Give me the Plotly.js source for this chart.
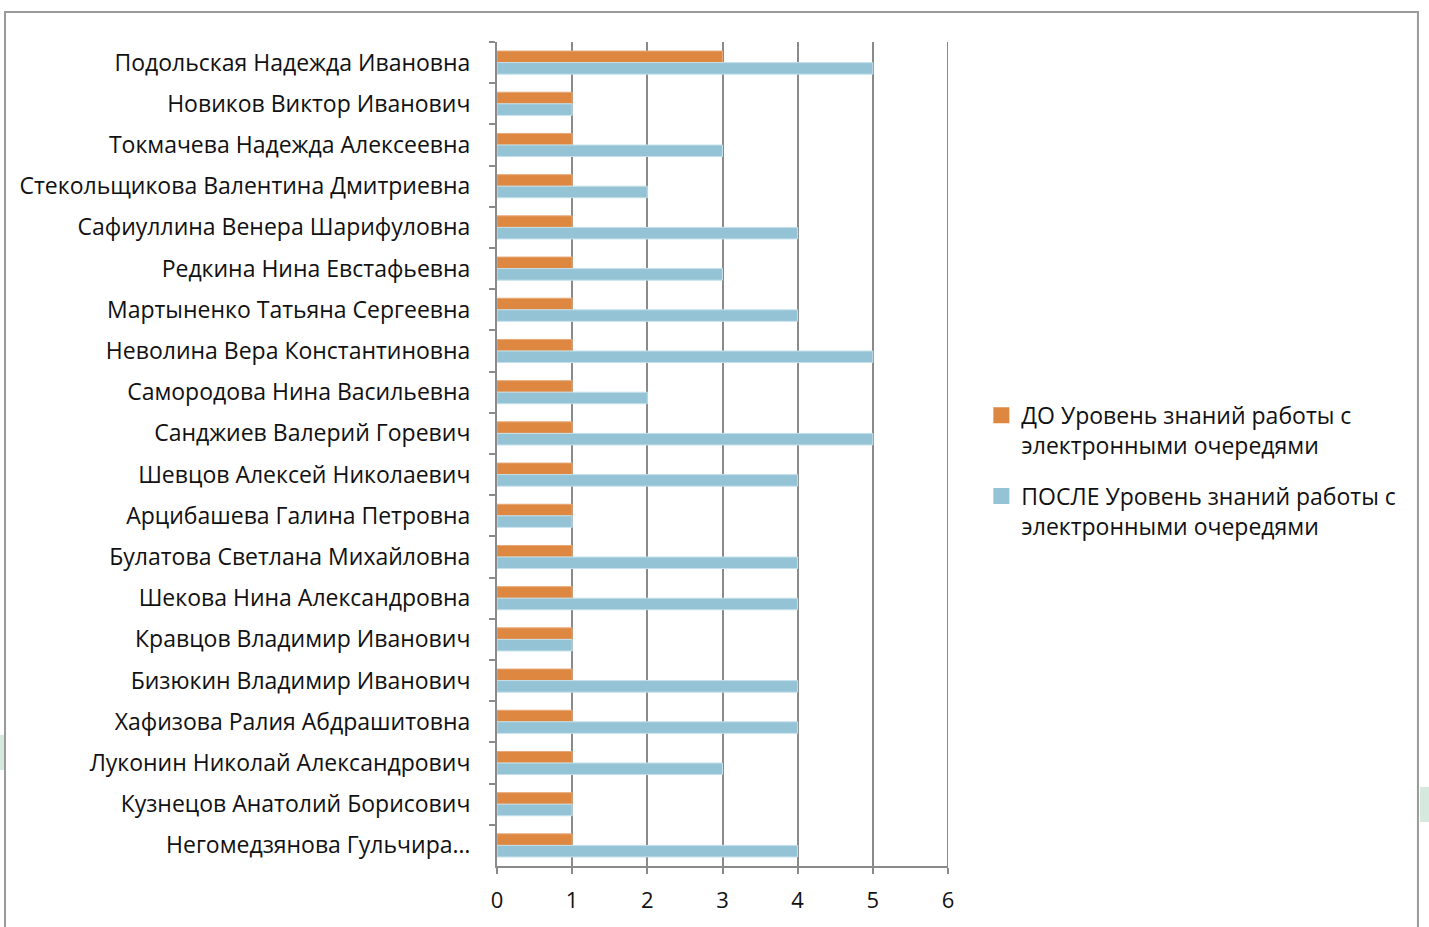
<!DOCTYPE html>
<html><head><meta charset="utf-8">
<script src="https://cdn.plot.ly/plotly-3.0.1.min.js"></script>
<style>html,body{margin:0;padding:0;background:#fff;}#chart{width:1429px;height:927px;}</style>
</head><body><div id="chart"></div>
<script>
const categories = [
  "Подольская Надежда Ивановна",
  "Новиков Виктор Иванович",
  "Токмачева Надежда Алексеевна",
  "Стекольщикова Валентина Дмитриевна",
  "Сафиуллина Венера Шарифуловна",
  "Редкина Нина Евстафьевна",
  "Мартыненко Татьяна Сергеевна",
  "Неволина Вера Константиновна",
  "Самородова Нина Васильевна",
  "Санджиев Валерий Горевич",
  "Шевцов Алексей Николаевич",
  "Арцибашева Галина Петровна",
  "Булатова Светлана Михайловна",
  "Шекова Нина Александровна",
  "Кравцов Владимир Иванович",
  "Бизюкин Владимир Иванович",
  "Хафизова Ралия Абдрашитовна",
  "Луконин Николай Александрович",
  "Кузнецов Анатолий Борисович",
  "Негомедзянова Гульчира…"
];
const before = [3,1,1,1,1,1,1,1,1,1,1,1,1,1,1,1,1,1,1,1];
const after  = [5,1,3,2,4,3,4,5,2,5,4,1,4,4,1,4,4,3,1,4];
const seriesNames = [
  "ДО Уровень знаний работы с<br>электронными очередями",
  "ПОСЛЕ Уровень знаний работы с<br>электронными очередями"
];
const xTicks = [0,1,2,3,4,5,6];
const xMax = 6;
const colors = ["#DD8741", "#93C3D5"];

const font = {family: "Open Sans, sans-serif", size: 23, color: "#111"};
const traces = [
  {type:"bar", orientation:"h", y:categories, x:before, name:seriesNames[0], showlegend:false, legendgroup:"g1",
   marker:{color:colors[0], line:{color:"#E8A877", width:1}}},
  {type:"bar", orientation:"h", y:categories, x:after, name:seriesNames[1], showlegend:false, legendgroup:"g2",
   marker:{color:colors[1], line:{color:"#C5E0EA", width:1}}},
  {type:"scatter", mode:"markers", x:[null], y:[null], name:seriesNames[0], legendgroup:"g1",
   marker:{symbol:"square", size:16, color:colors[0]}, hoverinfo:"skip"},
  {type:"scatter", mode:"markers", x:[null], y:[null], name:seriesNames[1], legendgroup:"g2",
   marker:{symbol:"square", size:16, color:colors[1]}, hoverinfo:"skip"}
];
const layout = {
  width:1429, height:927,
  margin:{l:497, r:481, t:42, b:61},
  paper_bgcolor:"#fff", plot_bgcolor:"#fff",
  barmode:"group", bargap:0.44, bargroupgap:0,
  font: font,
  showlegend:true,
  legend:{x:1.074, xanchor:"left", y:0.573, yanchor:"top", font:{...font, size:23},
          traceorder:"grouped", valign:"top", tracegroupgap:18, itemwidth:30, bgcolor:"rgba(0,0,0,0)"},
  xaxis:{range:[0,xMax], tickvals:xTicks, ticktext:xTicks.map(String), showgrid:true, gridcolor:"#8a8a8a", gridwidth:2,
         zeroline:false, showline:true, linecolor:"#8a8a8a", linewidth:2, ticks:"outside", ticklen:6,
         tickcolor:"#8a8a8a", tickwidth:2, fixedrange:true, ticklabelstandoff:8, tickfont:{...font, size:22}},
  yaxis:{autorange:"reversed", type:"category", showgrid:false, showline:true, linecolor:"#8a8a8a", linewidth:2,
         ticks:"outside", ticklen:6, tickcolor:"#8a8a8a", tickwidth:2, tickson:"boundaries",
         ticklabelstandoff:20, tickfont:{...font, size:23}, fixedrange:true},
  shapes:[
    {type:"rect", xref:"paper", yref:"paper", x0:-1.0909, x1:2.042, y0:-0.2, y1:1.0364,
     line:{color:"#9a9a9a", width:2}, fillcolor:"rgba(0,0,0,0)", layer:"below"},
    {type:"rect", xref:"paper", yref:"paper", x0:-1.102, x1:-1.0931, y0:0.1165, y1:0.159,
     line:{width:0}, fillcolor:"#d6e9df", layer:"below"},
    {type:"rect", xref:"paper", yref:"paper", x0:2.0466, x1:2.07, y0:0.0534, y1:0.0959,
     line:{width:0}, fillcolor:"#d6e9df", layer:"below"},
    {type:"line", xref:"x", yref:"paper", x0:xMax, x1:xMax, y0:0, y1:1,
     line:{color:"#8a8a8a", width:2}, layer:"below"}
  ]
};
Plotly.newPlot("chart", traces, layout, {displayModeBar:false, staticPlot:true});
</script></body></html>
